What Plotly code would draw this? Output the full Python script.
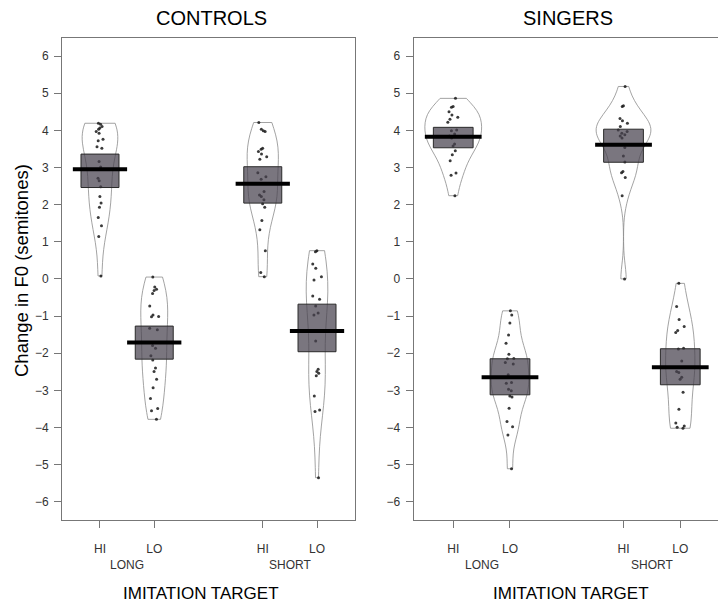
import numpy as np
import plotly.graph_objects as go

# ---------------- data ----------------
positions = [1, 2, 4, 5]
tick_text = ["HI", "LO", "HI", "LO"]
duration_labels = ["LONG", "SHORT"]
duration_pos = [1.5, 4.5]
panel_titles = ["CONTROLS", "SINGERS"]

controls_hi_long = [4.19, 4.16, 4.10, 4.06, 4.03, 3.97, 3.92, 3.76, 3.72, 3.56, 3.52, 3.16,
                    3.01, 2.71, 2.64, 2.48, 2.22, 2.04, 1.93, 1.65, 1.43, 1.14, 0.08]
controls_lo_long = [0.05, -0.22, -0.28, -0.31, -0.39, -0.73, -0.97, -1.01, -1.02, -1.33, -1.37,
                    -1.79, -1.87, -2.07, -2.18, -2.40, -2.49, -2.70, -2.93, -3.22, -3.49, -3.55, -3.78]
controls_hi_short = [4.21, 4.03, 3.99, 3.97, 3.52, 3.49, 3.43, 3.36, 3.29, 3.22, 2.86, 2.75,
                     2.68, 2.35, 2.26, 2.22, 2.13, 2.02, 1.93, 1.57, 1.32, 0.76, 0.17, 0.06]
controls_lo_short = [0.76, 0.73, 0.40, 0.29, 0.06, -0.03, -0.46, -0.55, -0.73, -0.92, -0.97,
                     -1.67, -2.43, -2.49, -2.54, -2.61, -3.15, -3.53, -3.57, -5.35]

singers_hi_long = [4.86, 4.64, 4.62, 4.50, 4.41, 4.35, 4.30, 4.22, 4.01, 3.99, 3.90, 3.85,
                   3.79, 3.63, 3.58, 3.45, 3.34, 3.18, 2.85, 2.79, 2.24]
singers_lo_long = [-0.86, -0.97, -1.19, -1.51, -1.73, -2.03, -2.14, -2.15, -2.25, -2.29, -2.58,
                   -2.79, -2.81, -2.97, -3.01, -3.15, -3.18, -3.48, -3.84, -3.98, -4.20, -5.11]
singers_hi_short = [5.18, 4.66, 4.64, 4.32, 4.26, 4.19, 4.10, 4.01, 3.97, 3.92, 3.88, 3.85,
                    3.79, 3.54, 3.31, 3.15, 2.89, 2.86, 2.73, 2.24, 0.00]
singers_lo_short = [-0.12, -0.74, -1.09, -1.28, -1.39, -1.44, -1.87, -1.89, -2.21, -2.49, -2.52,
                    -2.65, -2.70, -3.05, -3.51, -3.88, -3.96, -3.99, -4.02]

controls_means = [2.95, -1.71, 2.56, -1.40]
controls_ci_lo = [2.46, -2.16, 2.04, -1.96]
controls_ci_hi = [3.36, -1.27, 3.02, -0.68]
singers_means = [3.83, -2.65, 3.61, -2.38]
singers_ci_lo = [3.53, -3.12, 3.14, -2.85]
singers_ci_hi = [4.08, -2.15, 4.03, -1.88]

y_ticks = [-6, -5, -4, -3, -2, -1, 0, 1, 2, 3, 4, 5, 6]

# ---------------- figure ----------------
W, H = 718, 603
FONT = "Liberation Sans, Arial, Helvetica, sans-serif"

panels = [
    dict(groups=[controls_hi_long, controls_lo_long, controls_hi_short, controls_lo_short],
         means=controls_means, lo=controls_ci_lo, hi=controls_ci_hi, xa="x", ya="y"),
    dict(groups=[singers_hi_long, singers_lo_long, singers_hi_short, singers_lo_short],
         means=singers_means, lo=singers_ci_lo, hi=singers_ci_hi, xa="x2", ya="y2"),
]


def nrd0(v):
    v = np.asarray(v, dtype=float)
    sd = v.std(ddof=1)
    q75, q25 = np.percentile(v, [75, 25])
    lo = min(sd, (q75 - q25) / 1.34)
    if lo <= 0:
        lo = sd
    return 0.9 * lo * len(v) ** -0.2


def kde_peak(v, h):
    v = np.asarray(v, dtype=float)
    g = np.linspace(v.min(), v.max(), 400)
    z = (g[:, None] - v[None, :]) / h
    d = np.exp(-0.5 * z ** 2).sum(axis=1) / (len(v) * h * np.sqrt(2 * np.pi))
    return d.max()


# beans share one density scale across both panels (widest bean = BEAN_MAX)
BEAN_MAX = 1.0
BOX_HALF = 0.35
MEAN_HALF = 0.5
JITTER_ABS = 0.2

all_groups = [g for p in panels for g in p["groups"]]
peaks = [kde_peak(g, nrd0(g)) for g in all_groups]
global_peak = max(peaks)

fig = go.Figure()
k = 0
for p in panels:
    for pos, vals in zip(positions, p["groups"]):
        bw = nrd0(vals)
        wid = BEAN_MAX * peaks[k] / global_peak
        k += 1
        fig.add_trace(go.Violin(
            x=[pos] * len(vals), y=vals, xaxis=p["xa"], yaxis=p["ya"],
            width=wid, scalemode="width", spanmode="hard",
            bandwidth=bw, fillcolor="rgba(255,255,255,0)",
            line=dict(color="#8c8c8c", width=0.8),
            points="all", pointpos=0, jitter=min(1.0, JITTER_ABS / wid),
            marker=dict(size=3, color="rgba(25,25,25,0.85)"),
            box_visible=False, meanline_visible=False, showlegend=False,
            hoverinfo="y"))
    for pos, m, lo, hi in zip(positions, p["means"], p["lo"], p["hi"]):
        fig.add_trace(go.Scatter(
            x=[pos - BOX_HALF, pos + BOX_HALF, pos + BOX_HALF, pos - BOX_HALF, pos - BOX_HALF],
            y=[lo, lo, hi, hi, lo], xaxis=p["xa"], yaxis=p["ya"],
            mode="lines", fill="toself", fillcolor="rgba(70,65,78,0.72)",
            line=dict(color="#2a2a2a", width=1), showlegend=False, hoverinfo="skip"))
        fig.add_trace(go.Scatter(
            x=[pos - MEAN_HALF, pos + MEAN_HALF], y=[m, m], xaxis=p["xa"], yaxis=p["ya"],
            mode="lines", line=dict(color="black", width=4), showlegend=False,
            hoverinfo="y"))

# panel pixel geometry
left_px = (62, 355)
right_px = (413.5, 720)
top_px, bot_px = 38, 520
xr = (0.3, 5.7)
right_end = xr[0] + (xr[1] - xr[0]) * (W - right_px[0]) / (right_px[1] - right_px[0])
ydom = [(H - bot_px) / H, (H - top_px) / H]
yr = [-6.49, 6.485]

axis_common = dict(showgrid=False, zeroline=False, showline=True, linecolor="#777",
                   linewidth=1, ticks="outside", tickcolor="#777", tickwidth=1)

fig.update_layout(
    width=W, height=H, margin=dict(l=0, r=0, t=0, b=0),
    paper_bgcolor="white", plot_bgcolor="white",
    font=dict(family=FONT, color="#333"),
    xaxis=dict(domain=[left_px[0] / W, left_px[1] / W], range=list(xr), anchor="y",
               tickvals=positions, ticktext=tick_text, ticklen=7, mirror=True,
               tickfont=dict(size=12, color="#333"), ticklabelstandoff=11, **axis_common),
    yaxis=dict(domain=ydom, range=yr, anchor="x", tickvals=y_ticks, ticklen=7, mirror=True,
               tickfont=dict(size=12, color="#333"), ticklabelstandoff=3, **axis_common),
    xaxis2=dict(domain=[right_px[0] / W, 1.0], range=[xr[0], right_end], anchor="y2",
                tickvals=positions, ticktext=tick_text, ticklen=7, mirror=True,
                tickfont=dict(size=12, color="#333"), ticklabelstandoff=11, **axis_common),
    yaxis2=dict(domain=ydom, range=yr, anchor="x2", tickvals=y_ticks, ticklen=7, mirror=False,
                tickfont=dict(size=12, color="#333"), ticklabelstandoff=3, **axis_common),
)

annotations = []
for xa, title, tx, lx in [("x", panel_titles[0], 211, 201), ("x2", panel_titles[1], 568, 571)]:
    for lab, dp in zip(duration_labels, duration_pos):
        annotations.append(dict(x=dp, xref=xa, y=(H - 565) / H, yref="paper", text=lab,
                                showarrow=False, xanchor="center", yanchor="middle",
                                font=dict(size=12, color="#333")))
    annotations.append(dict(x=tx / W, xref="paper", y=(H - 18) / H, yref="paper", text=title,
                            showarrow=False, xanchor="center", yanchor="middle",
                            font=dict(size=20, color="black")))
    annotations.append(dict(x=lx / W, xref="paper", y=(H - 593) / H, yref="paper",
                            text="IMITATION TARGET", showarrow=False, xanchor="center",
                            yanchor="middle", font=dict(size=17, color="black")))
annotations.append(dict(x=22 / W, xref="paper", y=(H - 271) / H, yref="paper",
                        text="Change in F0 (semitones)", textangle=-90, showarrow=False,
                        xanchor="center", yanchor="middle", font=dict(size=18.5, color="black")))
fig.update_layout(annotations=annotations)

fig.write_html("out.html", config={"displayModeBar": False},
               post_script="document.body.style.margin='0px';document.body.style.overflow='hidden';")
